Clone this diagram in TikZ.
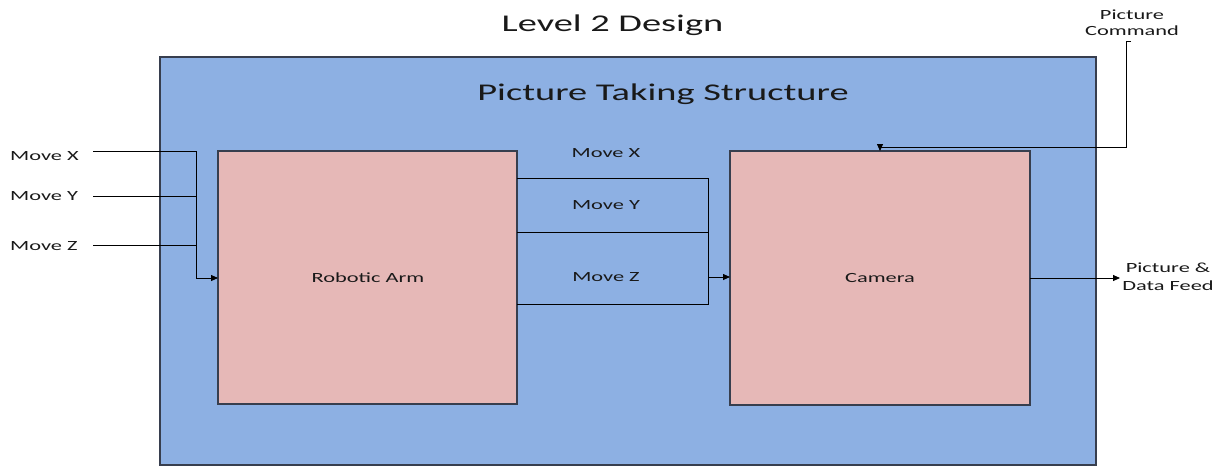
\documentclass[tikz,border=0pt]{standalone}
\usepackage{fontspec}
\setmainfont{Carlito}
\usetikzlibrary{arrows.meta}
\definecolor{outerblue}{RGB}{141,176,227}
\definecolor{boxpink}{RGB}{230,184,183}
\definecolor{edgegray}{RGB}{55,62,78}
\definecolor{txt}{RGB}{25,25,25}
\newcommand\wide[1]{\scalebox{1.6}[1]{#1}}
\begin{document}
\begin{tikzpicture}[x=1pt,y=-1pt,
  box/.style={draw=edgegray,line width=1.1pt,inner sep=0pt,outer sep=0pt},
  small/.style={text=txt,font=\fontsize{14}{16}\selectfont,inner sep=0pt,align=center},
  big/.style={text=txt,font=\fontsize{24}{28}\selectfont,inner sep=0pt},
  wire/.style={draw=black,line width=0.8pt},
  arr/.style={wire,-{Triangle[length=7pt,width=6pt]}}]
\useasboundingbox (0,0) rectangle (1228,466);
% boxes
\node[box,fill=outerblue,minimum width=936pt,minimum height=408pt] (outer) at (628,261) {};
\node[box,fill=boxpink,minimum width=299pt,minimum height=253pt] (arm) at (367.5,277.5) {};
\node[box,fill=boxpink,minimum width=300pt,minimum height=254pt] (cam) at (880,278) {};
% titles
\node[big,anchor=base] (title) at (612.5,31) {\wide{Level 2 Design}};
\node[big,anchor=base] (pts) at (663,100) {\wide{Picture Taking Structure}};
\node[small,anchor=base] (armlbl) at (368,282) {\wide{Robotic Arm}};
\node[small,anchor=base] (camlbl) at (880,282) {\wide{Camera}};
% input labels
\node[small,anchor=base west] (lx) at (10,160) {\wide{Move X}};
\node[small,anchor=base west] (ly) at (10,200.7) {\wide{Move Y}};
\node[small,anchor=base west] (lz) at (10,250.7) {\wide{Move Z}};
% middle labels
\node[small,anchor=base] (mxl) at (606,157.3) {\wide{Move X}};
\node[small,anchor=base] (myl) at (606,209.3) {\wide{Move Y}};
\node[small,anchor=base] (mzl) at (606,281.7) {\wide{Move Z}};
% picture command
\node[small,anchor=base] (pc1) at (1132,19.3) {\wide{Picture}};
\node[small,anchor=base] (pc2) at (1132,35.7) {\wide{Command}};
% output
\node[small,anchor=base] (of1) at (1168,272.3) {\wide{Picture \&}};
\node[small,anchor=base] (of2) at (1168,290) {\wide{Data Feed}};
% coordinates
\coordinate (inX) at (93,151);
\coordinate (inY) at (93,196);
\coordinate (inZ) at (93,245);
\coordinate (jTop) at (196,151);
\coordinate (jBot) at (196,278);
\coordinate (m1) at (708,178);
\coordinate (m2) at (708,232);
\coordinate (m3) at (708,304);
\coordinate (m4) at (708,277);
\coordinate (pcStub) at (1131,41);
\coordinate (pcTop) at (1126,41);
\coordinate (outTip) at (1120,278);
% input wires
\draw[arr] (inX) -- (jTop) -- (jBot) -- (arm.west |- jBot);
\draw[wire] (inY) -- (inY -| jTop);
\draw[wire] (inZ) -- (inZ -| jTop);
% middle wires
\draw[wire] (arm.east |- m1) -- (m1) -- (m3) -- (arm.east |- m3);
\draw[wire] (arm.east |- m2) -- (m2);
\draw[arr] (m4) -- (cam.west |- m4);
% picture command
\draw[arr] (pcStub) -- (pcTop) |- ([yshift=4pt]cam.north) -- (cam.north);
% output
\draw[arr] (cam.east) -- (outTip);
\end{tikzpicture}
\end{document}
